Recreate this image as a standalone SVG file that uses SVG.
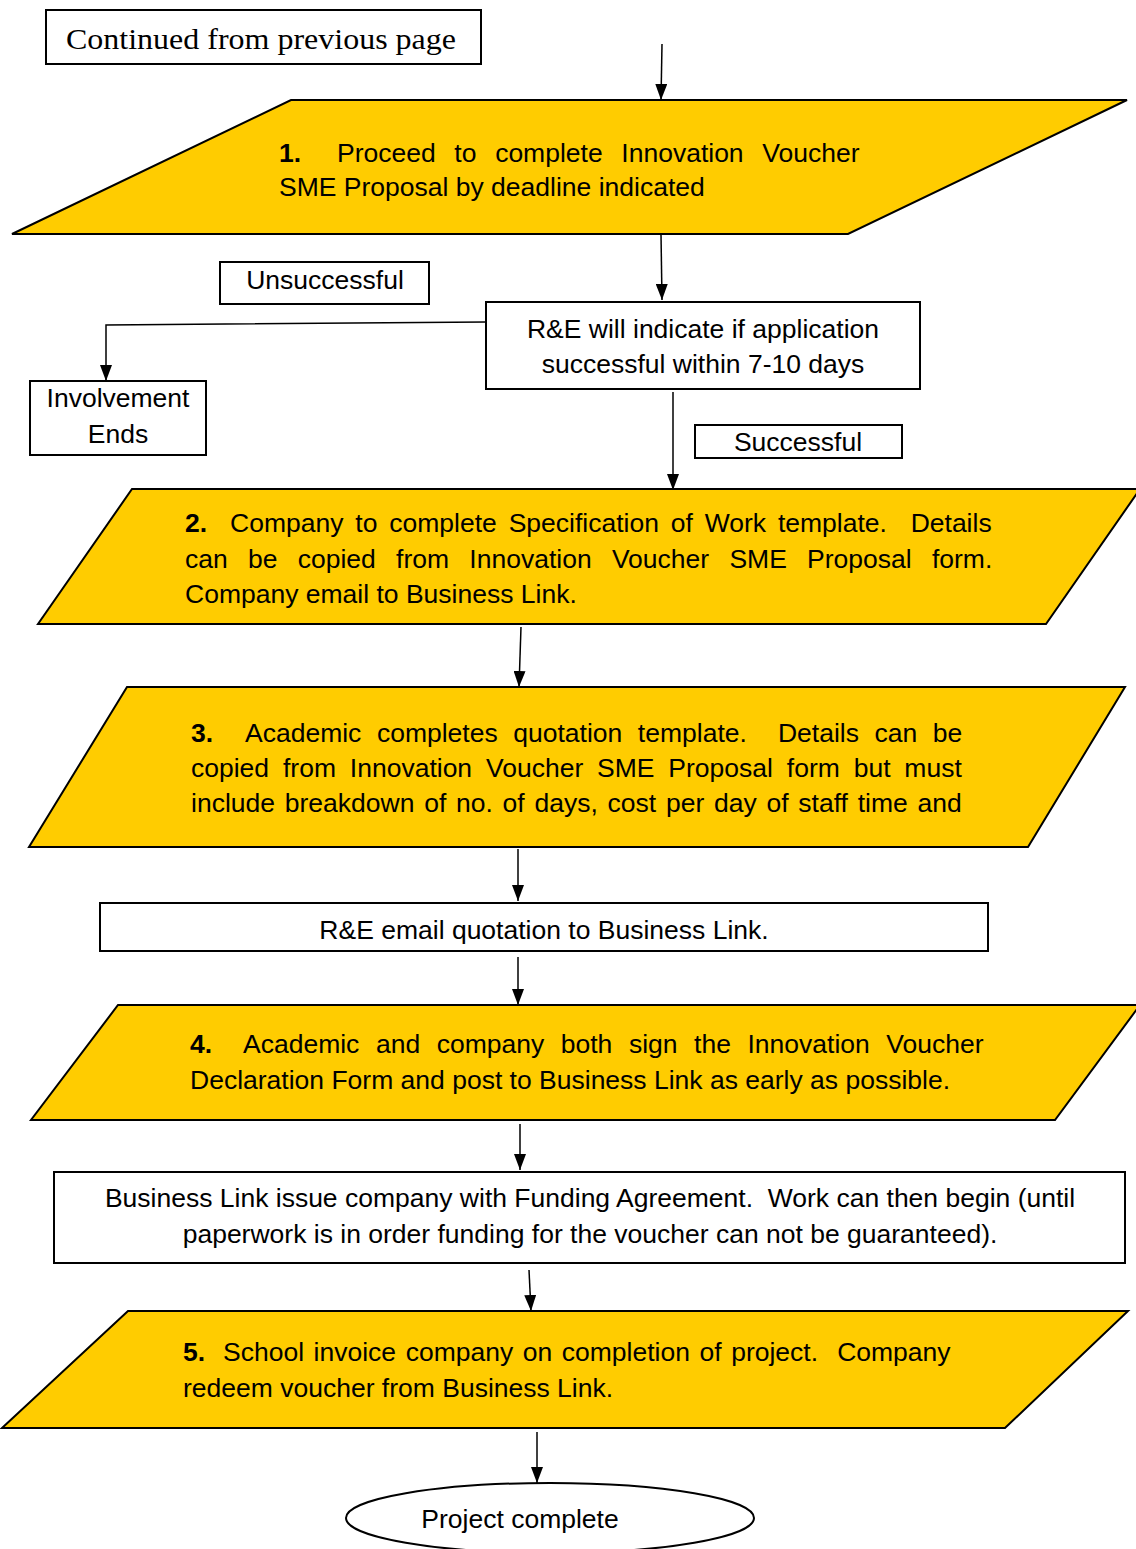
<svg xmlns="http://www.w3.org/2000/svg" width="1136" height="1549" viewBox="0 0 1136 1549">
<style>
.box{fill:#fff;stroke:#000;stroke-width:2}
.para{fill:#FFCC00;stroke:#000;stroke-width:2}
.t{font-family:"Liberation Sans",Arial,sans-serif;font-size:26.5px;fill:#000;white-space:pre}
.c{text-anchor:middle}
.b{font-weight:bold}
.ser{font-family:"Liberation Serif","Times New Roman",serif;font-size:29px;fill:#000}
.conn{fill:none;stroke:#000;stroke-width:1.5}
</style>
<defs>
<marker id="arr" markerUnits="userSpaceOnUse" markerWidth="16" markerHeight="12" viewBox="0 0 16 12" refX="16" refY="6" orient="auto">
<path d="M0,0 L16,6 L0,12 Z" fill="#000"/>
</marker>
</defs>
<rect width="1136" height="1549" fill="#fff"/>

<g id="continued">
<rect class="box" x="46" y="10" width="435" height="54"/>
<text class="ser" x="66" y="49" textLength="390" lengthAdjust="spacingAndGlyphs">Continued from previous page</text>
</g>

<g id="step1">
<polygon class="para" points="291,100 1127,100 848,234 12,234"/>
<text class="t b" x="279" y="162">1.</text>
<text class="t" x="337" y="162" word-spacing="11.3">Proceed to complete Innovation Voucher</text>
<text class="t" x="279" y="196">SME Proposal by deadline indicated</text>
</g>

<g id="unsuccessful-label">
<rect class="box" x="220" y="262" width="209" height="42"/>
<text class="t c" x="325" y="289">Unsuccessful</text>
</g>

<g id="decision">
<rect class="box" x="486" y="302" width="434" height="87"/>
<text class="t c" x="703" y="338">R&amp;E will indicate if application</text>
<text class="t c" x="703" y="373">successful within 7-10 days</text>
</g>

<g id="involvement-ends">
<rect class="box" x="30" y="381" width="176" height="74"/>
<text class="t c" x="118" y="407">Involvement</text>
<text class="t c" x="118" y="443">Ends</text>
</g>

<g id="successful-label">
<rect class="box" x="695" y="425" width="207" height="33"/>
<text class="t c" x="798" y="451">Successful</text>
</g>

<g id="step2">
<polygon class="para" points="132,489 1140,489 1046,624 38,624"/>
<text class="t b" x="185" y="532">2.</text>
<text class="t" x="230" y="532" word-spacing="4.5">Company to complete Specification of Work template.  Details</text>
<text class="t" x="185" y="568" word-spacing="12.9">can be copied from Innovation Voucher SME Proposal form.</text>
<text class="t" x="185" y="603">Company email to Business Link.</text>
</g>

<g id="step3">
<polygon class="para" points="127,687 1125,687 1028,847 29,847"/>
<text class="t b" x="191" y="742">3.</text>
<text class="t" x="245" y="742" word-spacing="8.2">Academic completes quotation template.  Details can be</text>
<text class="t" x="191" y="777" word-spacing="6.5">copied from Innovation Voucher SME Proposal form but must</text>
<text class="t" x="191" y="812" word-spacing="2.4">include breakdown of no. of days, cost per day of staff time and</text>
</g>

<g id="email-quotation">
<rect class="box" x="100" y="903" width="888" height="48"/>
<text class="t c" x="544" y="939">R&amp;E email quotation to Business Link.</text>
</g>

<g id="step4">
<polygon class="para" points="118,1005 1140,1005 1055,1120 31,1120"/>
<text class="t b" x="190" y="1053">4.</text>
<text class="t" x="243" y="1053" word-spacing="9.2">Academic and company both sign the Innovation Voucher</text>
<text class="t" x="190" y="1089">Declaration Form and post to Business Link as early as possible.</text>
</g>

<g id="funding-agreement">
<rect class="box" x="54" y="1172" width="1071" height="91"/>
<text class="t c" x="590" y="1207">Business Link issue company with Funding Agreement.  Work can then begin (until</text>
<text class="t c" x="590" y="1243">paperwork is in order funding for the voucher can not be guaranteed).</text>
</g>

<g id="step5">
<polygon class="para" points="128,1311 1128,1311 1005,1428 2,1428"/>
<text class="t b" x="183" y="1361">5.</text>
<text class="t" x="223" y="1361" word-spacing="2.2">School invoice company on completion of project.  Company</text>
<text class="t" x="183" y="1397">redeem voucher from Business Link.</text>
</g>

<g id="project-complete">
<ellipse class="box" cx="550" cy="1518" rx="204" ry="35"/>
<text class="t c" x="520" y="1528">Project complete</text>
</g>

<g id="connectors">
<line class="conn" x1="662" y1="44" x2="661" y2="100" marker-end="url(#arr)"/>
<line class="conn" x1="661" y1="234" x2="662" y2="300" marker-end="url(#arr)"/>
<polyline class="conn" points="486,322 106,325 106,381" marker-end="url(#arr)"/>
<line class="conn" x1="673" y1="392" x2="673" y2="490" marker-end="url(#arr)"/>
<line class="conn" x1="521" y1="627" x2="519" y2="687" marker-end="url(#arr)"/>
<line class="conn" x1="518" y1="849" x2="518" y2="901" marker-end="url(#arr)"/>
<line class="conn" x1="518" y1="957" x2="518" y2="1005" marker-end="url(#arr)"/>
<line class="conn" x1="520" y1="1124" x2="520" y2="1170" marker-end="url(#arr)"/>
<line class="conn" x1="529" y1="1270" x2="531" y2="1311" marker-end="url(#arr)"/>
<line class="conn" x1="537" y1="1432" x2="537" y2="1483" marker-end="url(#arr)"/>
</g>
</svg>
